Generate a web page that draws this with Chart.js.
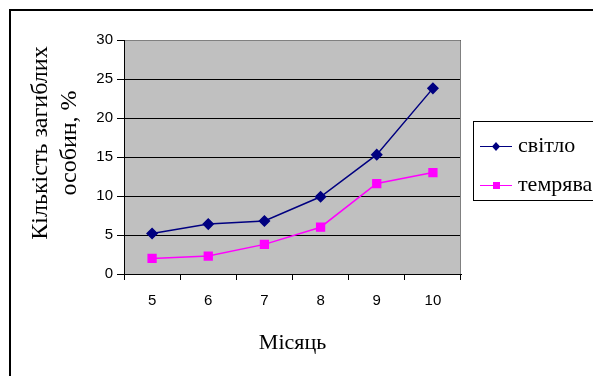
<!DOCTYPE html>
<html>
<head>
<meta charset="utf-8">
<script src="https://cdn.jsdelivr.net/npm/chart.js@4/dist/chart.umd.min.js"></script>
<style>
  html, body { margin: 0; padding: 0; background: #fff; }
  #wrap { width: 593px; height: 376px; }
</style>
</head>
<body>
<div id="wrap"><canvas id="chart" width="593" height="376"></canvas></div>
<script>
// data
const months = ['5', '6', '7', '8', '9', '10'];
const light = [5.2, 6.4, 6.8, 9.9, 15.3, 23.8];
const dark = [2.0, 2.3, 3.8, 6.0, 11.6, 13.0];
const seriesNames = ['світло', 'темрява'];
const yTitle = ['Кількість загиблих', 'особин, %'];
const xTitle = 'Місяць';

const serif = "'Liberation Serif', 'Times New Roman', serif";
const sans = "'Liberation Sans', Arial, sans-serif";

// grey plot background, outer frame, grey top/right border, y title, legend
const decor = {
  id: 'decor',
  beforeDraw(chart) {
    const { ctx, chartArea: a } = chart;
    ctx.save();
    ctx.fillStyle = '#c0c0c0';
    ctx.fillRect(a.left, a.top, a.right - a.left, a.bottom - a.top);
    ctx.restore();
  },
  afterDraw(chart) {
    const { ctx, chartArea: a } = chart;
    ctx.save();
    // outer frame (cut by the image edge on right and bottom)
    ctx.strokeStyle = '#000';
    ctx.lineWidth = 2;
    ctx.beginPath();
    ctx.moveTo(10, 380);
    ctx.lineTo(10, 10);
    ctx.lineTo(600, 10);
    ctx.stroke();

    // grey border top and right of plot
    ctx.strokeStyle = '#808080';
    ctx.lineWidth = 1;
    ctx.beginPath();
    ctx.moveTo(a.left + 1, a.top + 0.5);
    ctx.lineTo(a.right - 0.5, a.top + 0.5);
    ctx.lineTo(a.right - 0.5, a.bottom);
    ctx.stroke();

    // y title, two lines, rotated
    ctx.fillStyle = '#000';
    ctx.font = '24px ' + serif;
    ctx.textAlign = 'center';
    ctx.textBaseline = 'middle';
    ctx.translate(41, 143);
    ctx.rotate(-Math.PI / 2);
    ctx.fillText(yTitle[0], 0, 0);
    ctx.fillText(yTitle[1], 0, 29);
    ctx.restore();

    // legend box
    ctx.save();
    ctx.strokeStyle = '#000';
    ctx.lineWidth = 1;
    ctx.strokeRect(473.5, 121.5, 140, 79);
    ctx.font = '22px ' + serif;
    ctx.textBaseline = 'middle';
    const rows = [146, 185];
    chart.data.datasets.forEach((ds, i) => {
      const y = rows[i];
      ctx.strokeStyle = ds.borderColor;
      ctx.lineWidth = 1;
      ctx.beginPath();
      ctx.moveTo(480, y + 0.5);
      ctx.lineTo(512, y + 0.5);
      ctx.stroke();
      ctx.fillStyle = ds.backgroundColor;
      ctx.beginPath();
      if (ds.pointStyle === 'rectRot') {
        ctx.moveTo(496, y - 4);
        ctx.lineTo(500, y + 0.5);
        ctx.lineTo(496, y + 5);
        ctx.lineTo(492, y + 0.5);
        ctx.closePath();
      } else {
        ctx.rect(493, y - 3, 7, 7);
      }
      ctx.fill();
      ctx.fillStyle = '#000';
      ctx.fillText(ds.label, 518, y);
    });
    ctx.restore();
  }
};

new Chart(document.getElementById('chart'), {
  type: 'line',
  data: {
    labels: months,
    datasets: [
      {
        label: seriesNames[0],
        data: light,
        borderColor: '#000080',
        backgroundColor: '#000080',
        borderWidth: 1.5,
        pointStyle: 'rectRot',
        pointRadius: 5,
        pointHoverRadius: 5,
        tension: 0
      },
      {
        label: seriesNames[1],
        data: dark,
        borderColor: '#ff00ff',
        backgroundColor: '#ff00ff',
        borderWidth: 1.5,
        pointStyle: 'rect',
        pointRadius: 5.5,
        pointHoverRadius: 5.5,
        tension: 0
      }
    ]
  },
  options: {
    responsive: false,
    animation: false,
    events: [],
    layout: { padding: { left: 10, right: 132, top: 40, bottom: 0 } },
    plugins: { legend: { display: false }, tooltip: { enabled: false } },
    scales: {
      x: {
        offset: true,
        afterFit(scale) { scale.height = 102; },
        grid: {
          offset: true,
          drawOnChartArea: false,
          color: '#000',
          tickLength: 6
        },
        border: { color: '#000' },
        ticks: {
          color: '#000',
          padding: 12,
          font: { family: sans, size: 15 }
        },
        title: {
          display: true,
          text: xTitle,
          color: '#000',
          font: { family: serif, size: 22 },
          padding: { top: 0, bottom: 20 }
        }
      },
      y: {
        min: 0,
        max: 30,
        afterFit(scale) { scale.width = 114; },
        grid: { color: '#000', tickLength: 7 },
        border: { color: '#000' },
        ticks: {
          stepSize: 5,
          color: '#000',
          padding: 4,
          font: { family: sans, size: 15 }
        }
      }
    }
  },
  plugins: [decor]
});
</script>
</body>
</html>
